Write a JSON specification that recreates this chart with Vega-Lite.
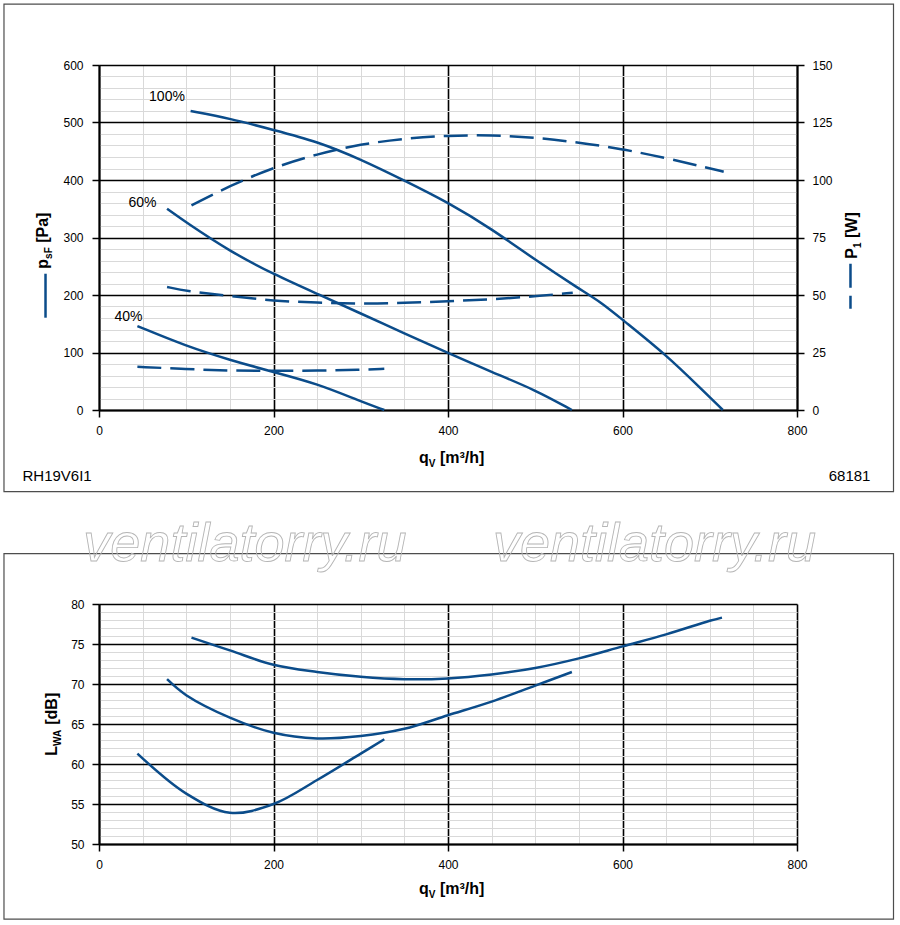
{
  "$schema": "https://vega.github.io/schema/vega-lite/v6.json",
  "background": "white",
  "padding": {"left": 3, "top": 3, "right": 3, "bottom": 3},
  "bounds": "flush",
  "spacing": 194,
  "config": {
    "view": {"stroke": null},
    "text": {"font": "Liberation Sans", "fontSize": 14, "color": "#000"},
    "axis": {
      "labelFont": "Liberation Sans", "labelFontSize": 12, "labelColor": "#000",
      "domainColor": "#000", "domainWidth": 2, "tickColor": "#000", "tickWidth": 1.5, "tickSize": 7,
      "labelOverlap": false, "labelFlush": false, "labelBound": false
    }
  },
  "datasets": {
    "pressure": [
      {"speed": "100%", "q": 105, "p": 520}, {"speed": "100%", "q": 150, "p": 507}, {"speed": "100%", "q": 200, "p": 487},
      {"speed": "100%", "q": 250, "p": 467}, {"speed": "100%", "q": 300, "p": 436}, {"speed": "100%", "q": 350, "p": 399},
      {"speed": "100%", "q": 400, "p": 361}, {"speed": "100%", "q": 450, "p": 315}, {"speed": "100%", "q": 500, "p": 261},
      {"speed": "100%", "q": 550, "p": 211}, {"speed": "100%", "q": 575, "p": 188}, {"speed": "100%", "q": 600, "p": 157},
      {"speed": "100%", "q": 650, "p": 96}, {"speed": "100%", "q": 690, "p": 37}, {"speed": "100%", "q": 715, "p": 0},
      {"speed": "60%", "q": 78, "p": 350}, {"speed": "60%", "q": 100, "p": 326}, {"speed": "60%", "q": 150, "p": 276},
      {"speed": "60%", "q": 200, "p": 236}, {"speed": "60%", "q": 250, "p": 202}, {"speed": "60%", "q": 300, "p": 168},
      {"speed": "60%", "q": 350, "p": 133}, {"speed": "60%", "q": 400, "p": 99}, {"speed": "60%", "q": 450, "p": 66},
      {"speed": "60%", "q": 500, "p": 35}, {"speed": "60%", "q": 542, "p": 0},
      {"speed": "40%", "q": 44, "p": 146}, {"speed": "40%", "q": 100, "p": 111}, {"speed": "40%", "q": 150, "p": 87},
      {"speed": "40%", "q": 200, "p": 66}, {"speed": "40%", "q": 250, "p": 46}, {"speed": "40%", "q": 300, "p": 15},
      {"speed": "40%", "q": 327, "p": 0}
    ],
    "power": [
      {"speed": "100%", "q": 106, "w": 89}, {"speed": "100%", "q": 150, "w": 97.5}, {"speed": "100%", "q": 200, "w": 105.5},
      {"speed": "100%", "q": 250, "w": 111.3}, {"speed": "100%", "q": 300, "w": 115.6}, {"speed": "100%", "q": 350, "w": 118},
      {"speed": "100%", "q": 400, "w": 119.4}, {"speed": "100%", "q": 450, "w": 119.5}, {"speed": "100%", "q": 500, "w": 118.5},
      {"speed": "100%", "q": 550, "w": 116.3}, {"speed": "100%", "q": 600, "w": 113.5}, {"speed": "100%", "q": 650, "w": 109.5},
      {"speed": "100%", "q": 690, "w": 106}, {"speed": "100%", "q": 716, "w": 103.6},
      {"speed": "60%", "q": 78, "w": 53.5}, {"speed": "60%", "q": 100, "w": 51.7}, {"speed": "60%", "q": 150, "w": 49.6},
      {"speed": "60%", "q": 200, "w": 47.4}, {"speed": "60%", "q": 250, "w": 46.7}, {"speed": "60%", "q": 300, "w": 46.2},
      {"speed": "60%", "q": 350, "w": 46.5}, {"speed": "60%", "q": 400, "w": 47.3}, {"speed": "60%", "q": 450, "w": 48.1},
      {"speed": "60%", "q": 500, "w": 49.4}, {"speed": "60%", "q": 543, "w": 51},
      {"speed": "40%", "q": 44, "w": 18.8}, {"speed": "40%", "q": 100, "w": 17.8}, {"speed": "40%", "q": 150, "w": 17.1},
      {"speed": "40%", "q": 200, "w": 17}, {"speed": "40%", "q": 250, "w": 17.1}, {"speed": "40%", "q": 300, "w": 17.5},
      {"speed": "40%", "q": 327, "w": 17.9}
    ],
    "sound": [
      {"speed": "100%", "q": 106, "l": 75.8}, {"speed": "100%", "q": 150, "l": 74.2}, {"speed": "100%", "q": 200, "l": 72.4},
      {"speed": "100%", "q": 250, "l": 71.5}, {"speed": "100%", "q": 300, "l": 70.9}, {"speed": "100%", "q": 350, "l": 70.6},
      {"speed": "100%", "q": 400, "l": 70.7}, {"speed": "100%", "q": 450, "l": 71.2}, {"speed": "100%", "q": 500, "l": 72.0},
      {"speed": "100%", "q": 550, "l": 73.2}, {"speed": "100%", "q": 600, "l": 74.7}, {"speed": "100%", "q": 650, "l": 76.2},
      {"speed": "100%", "q": 700, "l": 77.9}, {"speed": "100%", "q": 714, "l": 78.3},
      {"speed": "60%", "q": 78, "l": 70.6}, {"speed": "60%", "q": 100, "l": 68.6}, {"speed": "60%", "q": 150, "l": 65.8},
      {"speed": "60%", "q": 200, "l": 63.9}, {"speed": "60%", "q": 250, "l": 63.2}, {"speed": "60%", "q": 300, "l": 63.5},
      {"speed": "60%", "q": 350, "l": 64.4}, {"speed": "60%", "q": 400, "l": 66.1}, {"speed": "60%", "q": 450, "l": 67.8},
      {"speed": "60%", "q": 500, "l": 69.8}, {"speed": "60%", "q": 542, "l": 71.5},
      {"speed": "40%", "q": 44, "l": 61.3}, {"speed": "40%", "q": 100, "l": 56.3}, {"speed": "40%", "q": 150, "l": 53.9},
      {"speed": "40%", "q": 200, "l": 55.0}, {"speed": "40%", "q": 250, "l": 58.0}, {"speed": "40%", "q": 300, "l": 61.3},
      {"speed": "40%", "q": 327, "l": 63.1}
    ]
  },
  "vconcat": [
    {
      "width": 698,
      "height": 345,
      "resolve": {"scale": {"y": "independent"}},
      "layer": [
        {
          "data": {"values": [{}]},
          "mark": {"type": "rect", "fillOpacity": 0, "stroke": "#4d4d4d", "strokeWidth": 1.2},
          "encoding": {
            "x": {"datum": -108.9, "type": "quantitative", "scale": {"domain": [0, 800], "nice": false, "zero": false}},
            "x2": {"datum": 910.6},
            "y": {"datum": 705.7, "type": "quantitative", "scale": {"domain": [0, 600], "nice": false, "zero": false}, "axis": null},
            "y2": {"datum": -142.1}
          }
        },
        {
          "data": {"name": "pressure"},
          "mark": {"type": "line", "color": "#0b4c8a", "strokeWidth": 2.5, "interpolate": "basis"},
          "encoding": {
            "x": {
              "field": "q", "type": "quantitative",
              "scale": {"domain": [0, 800], "nice": false, "zero": false},
              "axis": {
                "title": null,
                "values": [0, 50, 100, 150, 200, 250, 300, 350, 400, 450, 500, 550, 600, 650, 700, 750, 800],
                "grid": true,
                "gridColor": {"condition": {"test": "datum.value % 200 === 0", "value": "#000"}, "value": "#d9d9d9"},
                "gridWidth": {"condition": {"test": "datum.value % 200 === 0", "value": 1.6}, "value": 1},
                "tickOpacity": {"condition": {"test": "datum.value % 200 === 0", "value": 1}, "value": 0},
                "labelExpr": "datum.value % 200 === 0 ? datum.label : ''",
                "labelPadding": 8
              }
            },
            "y": {
              "field": "p", "type": "quantitative",
              "scale": {"domain": [0, 600], "nice": false, "zero": false},
              "axis": {
                "title": null,
                "orient": "left",
                "values": [0, 20, 40, 60, 80, 100, 120, 140, 160, 180, 200, 220, 240, 260, 280, 300, 320, 340, 360, 380, 400, 420, 440, 460, 480, 500, 520, 540, 560, 580, 600],
                "grid": true,
                "gridColor": {"condition": {"test": "datum.value % 100 === 0", "value": "#000"}, "value": "#d9d9d9"},
                "gridWidth": {"condition": {"test": "datum.value % 100 === 0", "value": 1.6}, "value": 1},
                "tickOpacity": {"condition": {"test": "datum.value % 100 === 0", "value": 1}, "value": 0},
                "labelExpr": "datum.value % 100 === 0 ? datum.label : ''",
                "labelPadding": 9
              }
            },
            "detail": {"field": "speed"}
          }
        },
        {
          "data": {"name": "power"},
          "mark": {"type": "line", "color": "#0b4c8a", "strokeWidth": 2.5, "strokeDash": [24, 9], "interpolate": "basis"},
          "encoding": {
            "x": {"field": "q", "type": "quantitative", "scale": {"domain": [0, 800], "nice": false, "zero": false}},
            "y": {
              "field": "w", "type": "quantitative",
              "scale": {"domain": [0, 150], "nice": false, "zero": false},
              "axis": {"title": null, "orient": "right", "values": [0, 25, 50, 75, 100, 125, 150], "grid": false, "labelPadding": 8}
            },
            "detail": {"field": "speed"}
          }
        },
        {
          "data": {"values": [{}]},
          "mark": {"type": "text", "text": "100%"},
          "encoding": {
            "x": {"datum": 77.9, "type": "quantitative", "scale": {"domain": [0, 800], "nice": false, "zero": false}},
            "y": {"datum": 544, "type": "quantitative", "scale": {"domain": [0, 600], "nice": false, "zero": false}, "axis": null}
          }
        },
        {
          "data": {"values": [{}]},
          "mark": {"type": "text", "text": "60%"},
          "encoding": {
            "x": {"datum": 49.9, "type": "quantitative", "scale": {"domain": [0, 800], "nice": false, "zero": false}},
            "y": {"datum": 360.5, "type": "quantitative", "scale": {"domain": [0, 600], "nice": false, "zero": false}, "axis": null}
          }
        },
        {
          "data": {"values": [{}]},
          "mark": {"type": "text", "text": "40%"},
          "encoding": {
            "x": {"datum": 33.8, "type": "quantitative", "scale": {"domain": [0, 800], "nice": false, "zero": false}},
            "y": {"datum": 162.3, "type": "quantitative", "scale": {"domain": [0, 600], "nice": false, "zero": false}, "axis": null}
          }
        },
        {
          "data": {"values": [{}]},
          "mark": {"type": "text", "text": "RH19V6I1", "align": "left", "baseline": "alphabetic", "fontSize": 15},
          "encoding": {
            "x": {"datum": -87.7, "type": "quantitative", "scale": {"domain": [0, 800], "nice": false, "zero": false}},
            "y": {"datum": -123.8, "type": "quantitative", "scale": {"domain": [0, 600], "nice": false, "zero": false}, "axis": null}
          }
        },
        {
          "data": {"values": [{}]},
          "mark": {"type": "text", "text": "68181", "align": "right", "baseline": "alphabetic", "fontSize": 15},
          "encoding": {
            "x": {"datum": 884.2, "type": "quantitative", "scale": {"domain": [0, 800], "nice": false, "zero": false}},
            "y": {"datum": -123.8, "type": "quantitative", "scale": {"domain": [0, 600], "nice": false, "zero": false}, "axis": null}
          }
        },
        {
          "data": {"values": [{}]},
          "mark": {"type": "text", "text": "q", "align": "right", "baseline": "alphabetic", "fontSize": 16, "fontWeight": "bold", "dx": -19.2},
          "encoding": {
            "x": {"datum": 400, "type": "quantitative", "scale": {"domain": [0, 800], "nice": false, "zero": false}},
            "y": {"datum": -91.7, "type": "quantitative", "scale": {"domain": [0, 600], "nice": false, "zero": false}, "axis": null}
          }
        },
        {
          "data": {"values": [{}]},
          "mark": {"type": "text", "text": "V", "align": "left", "baseline": "alphabetic", "fontSize": 10, "fontWeight": "bold", "dx": -19.2, "dy": 4},
          "encoding": {
            "x": {"datum": 400, "type": "quantitative", "scale": {"domain": [0, 800], "nice": false, "zero": false}},
            "y": {"datum": -91.7, "type": "quantitative", "scale": {"domain": [0, 600], "nice": false, "zero": false}, "axis": null}
          }
        },
        {
          "data": {"values": [{}]},
          "mark": {"type": "text", "text": "[m³/h]", "align": "left", "baseline": "alphabetic", "fontSize": 16, "fontWeight": "bold", "dx": -8.1},
          "encoding": {
            "x": {"datum": 400, "type": "quantitative", "scale": {"domain": [0, 800], "nice": false, "zero": false}},
            "y": {"datum": -91.7, "type": "quantitative", "scale": {"domain": [0, 600], "nice": false, "zero": false}, "axis": null}
          }
        },
        {
          "data": {"values": [{}]},
          "mark": {"type": "text", "text": "p", "angle": 270, "align": "left", "baseline": "alphabetic", "fontSize": 16, "fontWeight": "bold", "dx": -28},
          "encoding": {
            "x": {"datum": -57.9, "type": "quantitative", "scale": {"domain": [0, 800], "nice": false, "zero": false}},
            "y": {"datum": 294.4, "type": "quantitative", "scale": {"domain": [0, 600], "nice": false, "zero": false}, "axis": null}
          }
        },
        {
          "data": {"values": [{}]},
          "mark": {"type": "text", "text": "sF", "angle": 270, "align": "left", "baseline": "alphabetic", "fontSize": 10, "fontWeight": "bold", "dx": -18.2, "dy": 4},
          "encoding": {
            "x": {"datum": -57.9, "type": "quantitative", "scale": {"domain": [0, 800], "nice": false, "zero": false}},
            "y": {"datum": 294.4, "type": "quantitative", "scale": {"domain": [0, 600], "nice": false, "zero": false}, "axis": null}
          }
        },
        {
          "data": {"values": [{}]},
          "mark": {"type": "text", "text": "[Pa]", "angle": 270, "align": "left", "baseline": "alphabetic", "fontSize": 16, "fontWeight": "bold", "dx": -2.1},
          "encoding": {
            "x": {"datum": -57.9, "type": "quantitative", "scale": {"domain": [0, 800], "nice": false, "zero": false}},
            "y": {"datum": 294.4, "type": "quantitative", "scale": {"domain": [0, 600], "nice": false, "zero": false}, "axis": null}
          }
        },
        {
          "data": {"values": [{}]},
          "mark": {"type": "rule", "color": "#0b4c8a", "strokeWidth": 2.5},
          "encoding": {
            "x": {"datum": -61.3, "type": "quantitative", "scale": {"domain": [0, 800], "nice": false, "zero": false}},
            "y": {"datum": 237, "type": "quantitative", "scale": {"domain": [0, 600], "nice": false, "zero": false}, "axis": null},
            "y2": {"datum": 160.5}
          }
        },
        {
          "data": {"values": [{}]},
          "mark": {"type": "text", "text": "P", "angle": 270, "align": "left", "baseline": "alphabetic", "fontSize": 16, "fontWeight": "bold", "dx": -18},
          "encoding": {
            "x": {"datum": 868.2, "type": "quantitative", "scale": {"domain": [0, 800], "nice": false, "zero": false}},
            "y": {"datum": 294.4, "type": "quantitative", "scale": {"domain": [0, 600], "nice": false, "zero": false}, "axis": null}
          }
        },
        {
          "data": {"values": [{}]},
          "mark": {"type": "text", "text": "1", "angle": 270, "align": "left", "baseline": "alphabetic", "fontSize": 10, "fontWeight": "bold", "dx": -7.3, "dy": 4},
          "encoding": {
            "x": {"datum": 868.2, "type": "quantitative", "scale": {"domain": [0, 800], "nice": false, "zero": false}},
            "y": {"datum": 294.4, "type": "quantitative", "scale": {"domain": [0, 600], "nice": false, "zero": false}, "axis": null}
          }
        },
        {
          "data": {"values": [{}]},
          "mark": {"type": "text", "text": "[W]", "angle": 270, "align": "left", "baseline": "alphabetic", "fontSize": 16, "fontWeight": "bold", "dx": 2.7},
          "encoding": {
            "x": {"datum": 868.2, "type": "quantitative", "scale": {"domain": [0, 800], "nice": false, "zero": false}},
            "y": {"datum": 294.4, "type": "quantitative", "scale": {"domain": [0, 600], "nice": false, "zero": false}, "axis": null}
          }
        },
        {
          "data": {"values": [{}]},
          "mark": {"type": "rule", "color": "#0b4c8a", "strokeWidth": 2.5, "strokeDash": [24, 8]},
          "encoding": {
            "x": {"datum": 861.3, "type": "quantitative", "scale": {"domain": [0, 800], "nice": false, "zero": false}},
            "y": {"datum": 254.4, "type": "quantitative", "scale": {"domain": [0, 600], "nice": false, "zero": false}, "axis": null},
            "y2": {"datum": 176.2}
          }
        }
      ]
    },
    {
      "width": 698,
      "height": 240,
      "resolve": {"scale": {"y": "independent"}},
      "layer": [
        {
          "data": {"values": [{}]},
          "mark": {"type": "rect", "fillOpacity": 0, "stroke": "#4d4d4d", "strokeWidth": 1.2},
          "encoding": {
            "x": {"datum": -108.9, "type": "quantitative", "scale": {"domain": [0, 800], "nice": false, "zero": false}},
            "x2": {"datum": 910.6},
            "y": {"datum": 86.29, "type": "quantitative", "scale": {"domain": [50, 80], "nice": false, "zero": false}, "axis": null},
            "y2": {"datum": 40.6}
          }
        },
        {
          "data": {"name": "sound"},
          "mark": {"type": "line", "color": "#0b4c8a", "strokeWidth": 2.5, "interpolate": "catmull-rom"},
          "encoding": {
            "x": {
              "field": "q", "type": "quantitative",
              "scale": {"domain": [0, 800], "nice": false, "zero": false},
              "axis": {
                "title": null,
                "values": [0, 50, 100, 150, 200, 250, 300, 350, 400, 450, 500, 550, 600, 650, 700, 750, 800],
                "grid": true,
                "gridColor": {"condition": {"test": "datum.value % 200 === 0", "value": "#000"}, "value": "#d9d9d9"},
                "gridWidth": {"condition": {"test": "datum.value % 200 === 0", "value": 1.6}, "value": 1},
                "tickOpacity": {"condition": {"test": "datum.value % 200 === 0", "value": 1}, "value": 0},
                "labelExpr": "datum.value % 200 === 0 ? datum.label : ''",
                "labelPadding": 8
              }
            },
            "y": {
              "field": "l", "type": "quantitative",
              "scale": {"domain": [50, 80], "nice": false, "zero": false},
              "axis": {
                "title": null,
                "orient": "left",
                "values": [50, 51, 52, 53, 54, 55, 56, 57, 58, 59, 60, 61, 62, 63, 64, 65, 66, 67, 68, 69, 70, 71, 72, 73, 74, 75, 76, 77, 78, 79, 80],
                "grid": true,
                "gridColor": {"condition": {"test": "datum.value % 5 === 0", "value": "#000"}, "value": "#d9d9d9"},
                "gridWidth": {"condition": {"test": "datum.value % 5 === 0", "value": 1.6}, "value": 1},
                "tickOpacity": {"condition": {"test": "datum.value % 5 === 0", "value": 1}, "value": 0},
                "labelExpr": "datum.value % 5 === 0 ? datum.label : ''",
                "labelPadding": 8
              }
            },
            "detail": {"field": "speed"}
          }
        },
        {
          "data": {"values": [{}]},
          "mark": {"type": "text", "text": "L", "angle": 270, "align": "left", "baseline": "alphabetic", "fontSize": 16, "fontWeight": "bold", "dx": -30},
          "encoding": {
            "x": {"datum": -47.6, "type": "quantitative", "scale": {"domain": [0, 800], "nice": false, "zero": false}},
            "y": {"datum": 64.79, "type": "quantitative", "scale": {"domain": [50, 80], "nice": false, "zero": false}, "axis": null}
          }
        },
        {
          "data": {"values": [{}]},
          "mark": {"type": "text", "text": "WA", "angle": 270, "align": "left", "baseline": "alphabetic", "fontSize": 10, "fontWeight": "bold", "dx": -20.2, "dy": 4},
          "encoding": {
            "x": {"datum": -47.6, "type": "quantitative", "scale": {"domain": [0, 800], "nice": false, "zero": false}},
            "y": {"datum": 64.79, "type": "quantitative", "scale": {"domain": [50, 80], "nice": false, "zero": false}, "axis": null}
          }
        },
        {
          "data": {"values": [{}]},
          "mark": {"type": "text", "text": "[dB]", "angle": 270, "align": "left", "baseline": "alphabetic", "fontSize": 16, "fontWeight": "bold", "dx": 0.9},
          "encoding": {
            "x": {"datum": -47.6, "type": "quantitative", "scale": {"domain": [0, 800], "nice": false, "zero": false}},
            "y": {"datum": 64.79, "type": "quantitative", "scale": {"domain": [50, 80], "nice": false, "zero": false}, "axis": null}
          }
        },
        {
          "data": {"values": [{}]},
          "mark": {"type": "text", "text": "q", "align": "right", "baseline": "alphabetic", "fontSize": 16, "fontWeight": "bold", "dx": -19.2},
          "encoding": {
            "x": {"datum": 400, "type": "quantitative", "scale": {"domain": [0, 800], "nice": false, "zero": false}},
            "y": {"datum": 43.79, "type": "quantitative", "scale": {"domain": [50, 80], "nice": false, "zero": false}, "axis": null}
          }
        },
        {
          "data": {"values": [{}]},
          "mark": {"type": "text", "text": "V", "align": "left", "baseline": "alphabetic", "fontSize": 10, "fontWeight": "bold", "dx": -19.2, "dy": 4},
          "encoding": {
            "x": {"datum": 400, "type": "quantitative", "scale": {"domain": [0, 800], "nice": false, "zero": false}},
            "y": {"datum": 43.79, "type": "quantitative", "scale": {"domain": [50, 80], "nice": false, "zero": false}, "axis": null}
          }
        },
        {
          "data": {"values": [{}]},
          "mark": {"type": "text", "text": "[m³/h]", "align": "left", "baseline": "alphabetic", "fontSize": 16, "fontWeight": "bold", "dx": -8.1},
          "encoding": {
            "x": {"datum": 400, "type": "quantitative", "scale": {"domain": [0, 800], "nice": false, "zero": false}},
            "y": {"datum": 43.79, "type": "quantitative", "scale": {"domain": [50, 80], "nice": false, "zero": false}, "axis": null}
          }
        },
        {
          "data": {"values": [{}]},
          "mark": {"type": "text", "text": "ventilatorry.ru", "align": "center", "baseline": "alphabetic", "fontSize": 54, "fontStyle": "italic", "fillOpacity": 0, "stroke": "#b5b5b5", "strokeWidth": 0.9},
          "encoding": {
            "x": {"datum": 167.2, "type": "quantitative", "scale": {"domain": [0, 800], "nice": false, "zero": false}},
            "y": {"datum": 85.41, "type": "quantitative", "scale": {"domain": [50, 80], "nice": false, "zero": false}, "axis": null}
          }
        },
        {
          "data": {"values": [{}]},
          "mark": {"type": "text", "text": "ventilatorry.ru", "align": "center", "baseline": "alphabetic", "fontSize": 54, "fontStyle": "italic", "fillOpacity": 0, "stroke": "#b5b5b5", "strokeWidth": 0.9},
          "encoding": {
            "x": {"datum": 636.7, "type": "quantitative", "scale": {"domain": [0, 800], "nice": false, "zero": false}},
            "y": {"datum": 85.41, "type": "quantitative", "scale": {"domain": [50, 80], "nice": false, "zero": false}, "axis": null}
          }
        }
      ]
    }
  ]
}
